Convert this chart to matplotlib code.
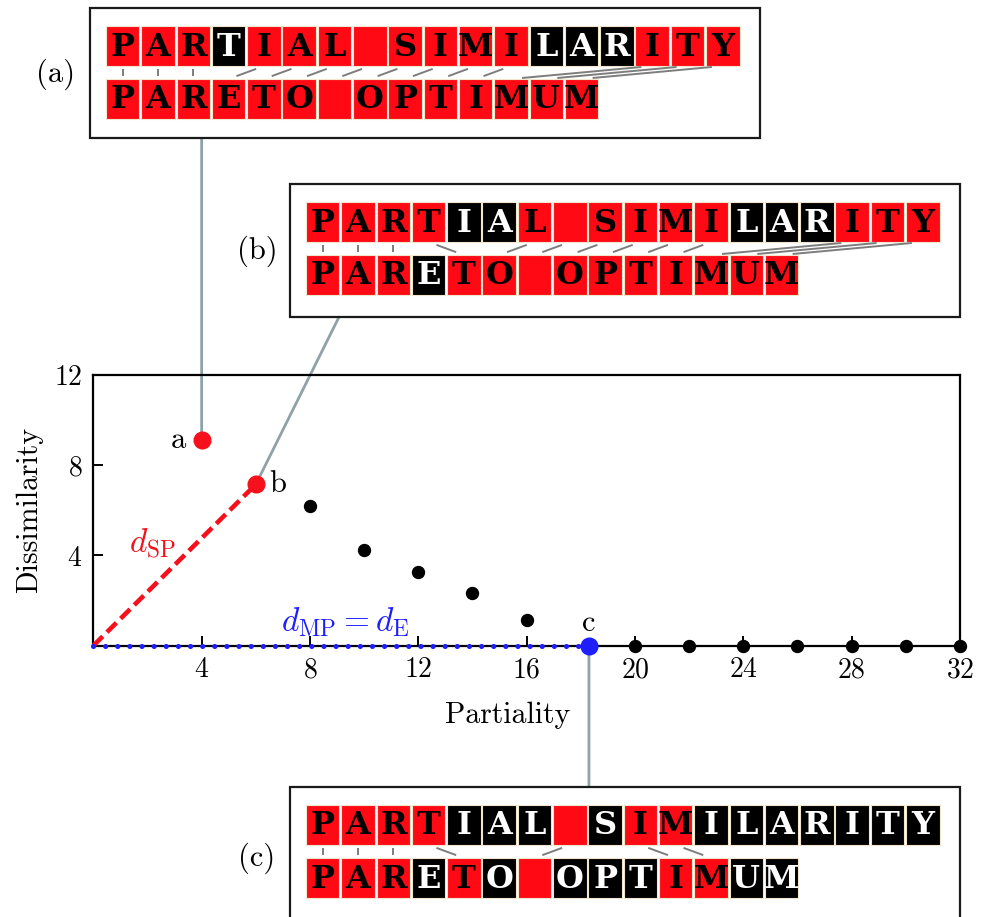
import math
import matplotlib
matplotlib.use("Agg")
import matplotlib.pyplot as plt
from matplotlib.patches import Rectangle, ConnectionPatch
from matplotlib.transforms import blended_transform_factory

plt.rcParams["font.family"] = "cmr10"
plt.rcParams["mathtext.fontset"] = "cm"
plt.rcParams["axes.formatter.use_mathtext"] = True

# ---------------- data ----------------
named_labels = ["a", "b", "c"]
named_x = [4, 6, 18.3]
named_y = [9.1, 7.15, 0]

front_x = [8, 10, 12, 14, 16]
front_y = [6.2, 4.25, 3.25, 2.35, 1.15]

axis_x = [20, 22, 24, 26, 28, 30, 32]
axis_y = [0, 0, 0, 0, 0, 0, 0]

x_ticks = [4, 8, 12, 16, 20, 24, 28, 32]
y_ticks = [4, 8, 12]

word_top = "PARTIAL SIMILARITY"
word_bottom = "PARETO OPTIMUM"

# per panel: colour code per letter (r = red / matched, k = black / unmatched)
panel_names = ["(a)", "(b)", "(c)"]
panel_top_codes = ["rrrkrrrrrrrrkkkrrr",
                   "rrrrkkrrrrrrkkkrrr",
                   "rrrrkkkrkrrkkkkkkk"]
panel_bottom_codes = ["rrrrrrrrrrrrrr",
                      "rrrkrrrrrrrrrr",
                      "rrrkrkrkkkrrkk"]
panel_matches = [
    [(0, 0), (1, 1), (2, 2), (4, 3), (5, 4), (6, 5), (7, 6), (8, 7), (9, 8),
     (10, 9), (11, 10), (15, 11), (16, 12), (17, 13)],
    [(0, 0), (1, 1), (2, 2), (3, 4), (6, 5), (7, 6), (8, 7), (9, 8), (10, 9),
     (11, 10), (15, 11), (16, 12), (17, 13)],
    [(0, 0), (1, 1), (2, 2), (3, 4), (7, 6), (9, 10), (10, 11)],
]

# ---------------- figure ----------------
W, H = 982, 917
fig = plt.figure(figsize=(W / 100, H / 100), dpi=100)

# overlay in pixel coordinates for inset boxes
ov = fig.add_axes([0, 0, 1, 1], zorder=0)
ov.set_xlim(0, W)
ov.set_ylim(H, 0)
ov.axis("off")

ax = fig.add_axes([93.3 / W, 1 - 645.7 / H, (960 - 93.3) / W, (645.7 - 375) / H],
                  zorder=1)
ax.set_facecolor("none")

RED = "#f5101c"
BLUE = "#1e1eff"
TILE_RED = "#ff0a14"
CONN = "#8fa2a6"

# lines
ax.plot([0, named_x[1]], [0, named_y[1]], color=RED, lw=3.3,
        linestyle=(0, (2.9, 1.3)), zorder=3, clip_on=False)
ax.plot([0, named_x[2]], [0, named_y[2]], color=BLUE, lw=3.7,
        linestyle=(0, (0.01, 2.35)), dash_capstyle="round", zorder=3,
        clip_on=False)

# points
ax.plot(front_x, front_y, "o", color="black", ms=8.6, zorder=4, clip_on=False)
ax.plot(axis_x, axis_y, "o", color="black", ms=8.6, zorder=4, clip_on=False)
ax.plot(named_x[:2], named_y[:2], "o", color=RED, ms=12, zorder=5, clip_on=False)
ax.plot(named_x[2:], named_y[2:], "o", color=BLUE, ms=12, zorder=5, clip_on=False)

ax.annotate(named_labels[0], (named_x[0], named_y[0]), xytext=(-17, 0),
            textcoords="offset points", ha="center", va="center", fontsize=22)
ax.annotate(named_labels[1], (named_x[1], named_y[1]), xytext=(16, 0),
            textcoords="offset points", ha="center", va="center", fontsize=22)
ax.annotate(named_labels[2], (named_x[2], named_y[2]), xytext=(0, 16),
            textcoords="offset points", ha="center", va="center", fontsize=22)

ax.text(2.2, 4.55, r"$d_{\mathrm{SP}}$", color=RED, fontsize=24,
        ha="center", va="center")
ax.text(9.3, 1.05, r"$d_{\mathrm{MP}} = d_{\mathrm{E}}$", color=BLUE, fontsize=24,
        ha="center", va="center")

ax.set_xlim(0, 32)
ax.set_ylim(0, 12)
ax.set_xticks(x_ticks)
ax.set_yticks(y_ticks)
ax.tick_params(direction="in", length=7, width=1.4, labelsize=20, pad=8,
               top=False, right=False)
for s in ax.spines.values():
    s.set_linewidth(1.6)
ax.set_xlabel("Partiality", fontsize=21.5)
ax.set_ylabel("Dissimilarity", fontsize=21.5)
ax.xaxis.set_label_coords(0.478, -0.205)
ax.yaxis.set_label_coords(-0.058, 0.5)

# ---------------- inset boxes ----------------
boxes = [(90, 8, 670, 130), (290, 184, 670, 133), (290, 787, 670, 140)]
label_pos = [(56, 74), (257, 251), (257, 858)]

PITCH = 35.3
TW = 33.5
TH = 40
GAP = 13

for p in range(3):
    bx, by, bw, bh = boxes[p]
    ov.add_patch(Rectangle((bx, by), bw, bh, facecolor="white",
                           edgecolor="#1a1a1a", lw=1.6, zorder=2))
    ov.text(*label_pos[p], panel_names[p], fontsize=22, ha="center", va="center")
    x0 = bx + 16
    y_top = by + 18
    y_bot = y_top + TH + GAP
    rows = [(word_top, panel_top_codes[p], y_top),
            (word_bottom, panel_bottom_codes[p], y_bot)]
    for word, codes, yy in rows:
        for i, (ch, c) in enumerate(zip(word, codes)):
            fc = TILE_RED if c == "r" else "black"
            tc = "black" if c == "r" else "white"
            ov.add_patch(Rectangle((x0 + i * PITCH, yy), TW, TH, facecolor=fc,
                                   edgecolor="#efe6cc", lw=0.8, zorder=3))
            if ch != " ":
                ov.text(x0 + i * PITCH + TW / 2, yy + TH / 2 + 1, ch, color=tc,
                        fontsize=23, fontweight="bold", family="DejaVu Serif",
                        ha="center", va="center", zorder=4)
    for ti, bi in panel_matches[p]:
        xt = x0 + ti * PITCH + TW / 2
        xb = x0 + bi * PITCH + TW / 2
        ya = y_top + TH
        yb = y_bot
        L = math.hypot(xb - xt, yb - ya)
        cut = min(11.0, 0.22 * L) / L
        ov.plot([xt + (xb - xt) * cut, xt + (xb - xt) * (1 - cut)],
                [ya + (yb - ya) * cut, ya + (yb - ya) * (1 - cut)],
                color="#7d7d7d", lw=1.4, zorder=3, solid_capstyle="butt")

# connectors from points to boxes
blend = blended_transform_factory(ax.transData, ov.transData)
connectors = [((named_x[0], boxes[0][1] + boxes[0][3]), blend),
              ((339, boxes[1][1] + boxes[1][3]), ov.transData),
              ((named_x[2], boxes[2][1]), blend)]
for k in range(3):
    xyB, trB = connectors[k]
    con = ConnectionPatch(xyA=(named_x[k], named_y[k]), coordsA=ax.transData,
                          xyB=xyB, coordsB=trB, color=CONN, lw=2.0, zorder=1)
    ov.add_artist(con)

fig.savefig("out.png", dpi=100)
